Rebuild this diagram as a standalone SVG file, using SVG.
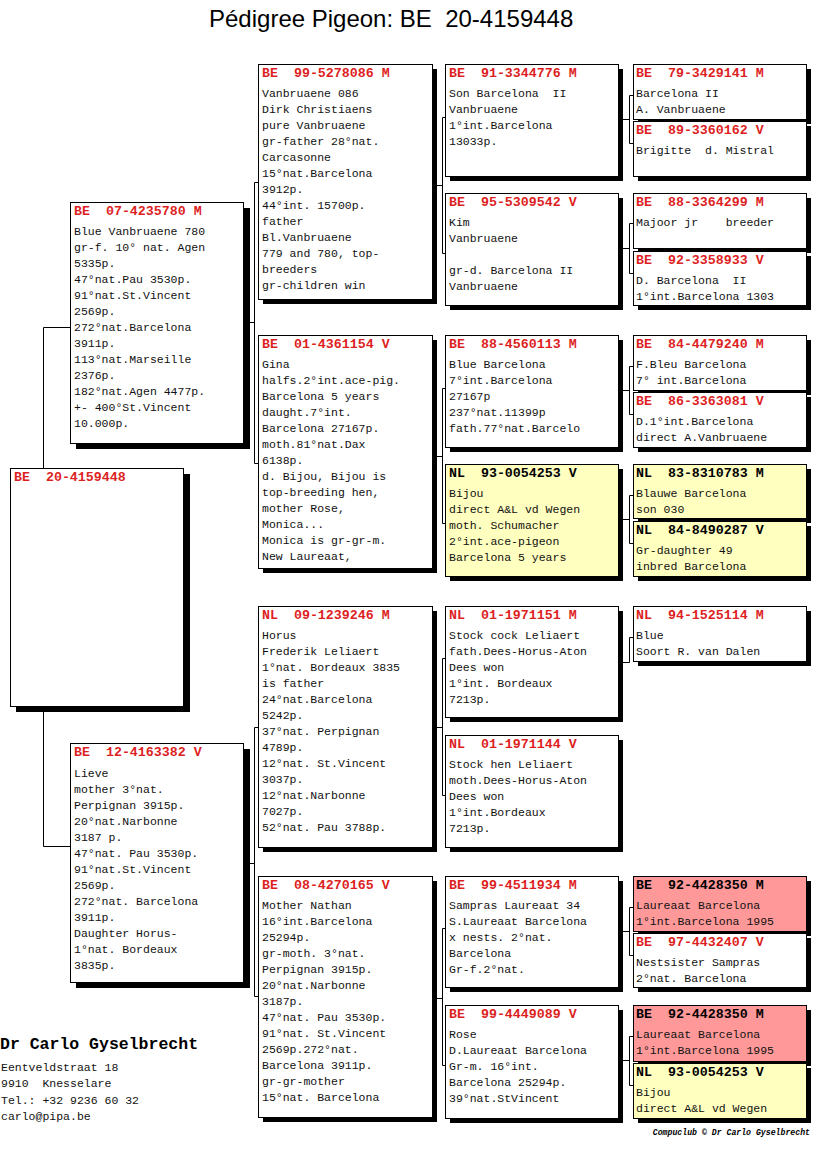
<svg xmlns="http://www.w3.org/2000/svg" width="816" height="1172" viewBox="0 0 816 1172">
<style>
.sh{fill:#000}
.bx{fill:#fff;stroke:#000;stroke-width:1}
.yel{fill:#ffffc0}
.pink{fill:#ff9999}
.hd{font-family:"Liberation Mono",monospace;font-weight:bold;font-size:13.3px;fill:#dd1f1f;white-space:pre}
.hk{fill:#000}
.tx{font-family:"Liberation Mono",monospace;font-size:11.5px;fill:#111;white-space:pre}
.ln{fill:none;stroke:#000;stroke-width:1}
.title{font-family:"Liberation Sans",Arial,sans-serif;font-size:24px;fill:#000;white-space:pre}
.sig{font-family:"Liberation Mono",monospace;font-weight:bold;font-size:16.5px;fill:#000}
.foot{font-family:"Liberation Mono",monospace;font-weight:bold;font-style:italic;font-size:8.2px;fill:#000}
</style>
<rect x="0" y="0" width="816" height="1172" fill="#fff"/>
<text class="title" x="209" y="27" xml:space="preserve">Pédigree Pigeon: BE  20-4159448</text>

<g id="connectors" class="ln">
<path d="M43.5 468V327.5H70"/>
<path d="M43.5 712V846.5H70"/>
<path d="M243 322.5H254.5M254.5 182.5V463.5M254.5 182.5H258M254.5 463.5H258"/>
<path d="M243 863.5H254.5M254.5 727.5V996.5M254.5 727.5H258M254.5 996.5H258"/>
<path d="M432 185.5H442.5M442.5 117.5V253.5M442.5 117.5H445M442.5 253.5H445"/>
<path d="M432 456.5H442.5M442.5 388.5V523.5M442.5 388.5H445M442.5 523.5H445"/>
<path d="M432 727.5H442.5M442.5 658.5V795.5M442.5 658.5H445M442.5 795.5H445"/>
<path d="M432 998.5H442.5M442.5 928.5V1065.5M442.5 928.5H445M442.5 1065.5H445"/>
<path d="M618 119.5H629.5M629.5 95.5V143.5M629.5 95.5H633M629.5 143.5H633"/>
<path d="M618 248.5H629.5M629.5 223.5V273.5M629.5 223.5H633M629.5 273.5H633"/>
<path d="M618 390.5H629.5M629.5 366.5V414.5M629.5 366.5H633M629.5 414.5H633"/>
<path d="M618 519.5H629.5M629.5 495.5V543.5M629.5 495.5H633M629.5 543.5H633"/>
<path d="M618 662.5H629.5V637.5H633"/>
<path d="M618 931.5H629.5M629.5 907.5V955.5M629.5 907.5H633M629.5 955.5H633"/>
<path d="M618 1060.5H629.5M629.5 1036.5V1085.5M629.5 1036.5H633M629.5 1085.5H633"/>
</g>

<g id="n-20-4159448">
<rect class="sh" x="16" y="474" width="174" height="238"/>
<rect class="bx" x="10.5" y="468.5" width="173" height="238"/>
<text class="hd" x="14" y="481" xml:space="preserve">BE  20-4159448</text>
</g>

<g id="n-07-4235780">
<rect class="sh" x="76" y="208" width="174" height="241"/>
<rect class="bx" x="70.5" y="202.5" width="173" height="241"/>
<text class="hd" x="74" y="215" xml:space="preserve">BE  07-4235780 M</text>
<text class="tx" x="74" y="235"><tspan x="74" dy="0">Blue Vanbruaene 780</tspan><tspan x="74" dy="16">gr-f. 10° nat. Agen</tspan><tspan x="74" dy="16">5335p.</tspan><tspan x="74" dy="16">47°nat.Pau 3530p.</tspan><tspan x="74" dy="16">91°nat.St.Vincent</tspan><tspan x="74" dy="16">2569p.</tspan><tspan x="74" dy="16">272°nat.Barcelona</tspan><tspan x="74" dy="16">3911p.</tspan><tspan x="74" dy="16">113°nat.Marseille</tspan><tspan x="74" dy="16">2376p.</tspan><tspan x="74" dy="16">182°nat.Agen 4477p.</tspan><tspan x="74" dy="16">+- 400°St.Vincent</tspan><tspan x="74" dy="16">10.000p.</tspan></text>
</g>

<g id="n-12-4163382">
<rect class="sh" x="76" y="749" width="174" height="239"/>
<rect class="bx" x="70.5" y="743.5" width="173" height="239"/>
<text class="hd" x="74" y="756" xml:space="preserve">BE  12-4163382 V</text>
<text class="tx" x="74" y="777"><tspan x="74" dy="0">Lieve</tspan><tspan x="74" dy="16">mother 3°nat.</tspan><tspan x="74" dy="16">Perpignan 3915p.</tspan><tspan x="74" dy="16">20°nat.Narbonne</tspan><tspan x="74" dy="16">3187 p.</tspan><tspan x="74" dy="16">47°nat. Pau 3530p.</tspan><tspan x="74" dy="16">91°nat.St.Vincent</tspan><tspan x="74" dy="16">2569p.</tspan><tspan x="74" dy="16">272°nat. Barcelona</tspan><tspan x="74" dy="16">3911p.</tspan><tspan x="74" dy="16">Daughter Horus-</tspan><tspan x="74" dy="16">1°nat. Bordeaux</tspan><tspan x="74" dy="16">3835p.</tspan></text>
</g>

<g id="n-99-5278086">
<rect class="sh" x="263" y="69" width="174" height="235"/>
<rect class="bx" x="258.5" y="64.5" width="174" height="235"/>
<text class="hd" x="262" y="77" xml:space="preserve">BE  99-5278086 M</text>
<text class="tx" x="262" y="97"><tspan x="262" dy="0">Vanbruaene 086</tspan><tspan x="262" dy="16">Dirk Christiaens</tspan><tspan x="262" dy="16">pure Vanbruaene</tspan><tspan x="262" dy="16">gr-father 28°nat.</tspan><tspan x="262" dy="16">Carcasonne</tspan><tspan x="262" dy="16">15°nat.Barcelona</tspan><tspan x="262" dy="16">3912p.</tspan><tspan x="262" dy="16">44°int. 15700p.</tspan><tspan x="262" dy="16">father</tspan><tspan x="262" dy="16">Bl.Vanbruaene</tspan><tspan x="262" dy="16">779 and 780, top-</tspan><tspan x="262" dy="16">breeders</tspan><tspan x="262" dy="16">gr-children win</tspan></text>
</g>

<g id="n-01-4361154">
<rect class="sh" x="263" y="340" width="174" height="233"/>
<rect class="bx" x="258.5" y="335.5" width="174" height="233"/>
<text class="hd" x="262" y="348" xml:space="preserve">BE  01-4361154 V</text>
<text class="tx" x="262" y="368"><tspan x="262" dy="0">Gina</tspan><tspan x="262" dy="16">halfs.2°int.ace-pig.</tspan><tspan x="262" dy="16">Barcelona 5 years</tspan><tspan x="262" dy="16">daught.7°int.</tspan><tspan x="262" dy="16">Barcelona 27167p.</tspan><tspan x="262" dy="16">moth.81°nat.Dax</tspan><tspan x="262" dy="16">6138p.</tspan><tspan x="262" dy="16">d. Bijou, Bijou is</tspan><tspan x="262" dy="16">top-breeding hen,</tspan><tspan x="262" dy="16">mother Rose,</tspan><tspan x="262" dy="16">Monica...</tspan><tspan x="262" dy="16">Monica is gr-gr-m.</tspan><tspan x="262" dy="16">New Laureaat,</tspan></text>
</g>

<g id="n-09-1239246">
<rect class="sh" x="263" y="611" width="174" height="241"/>
<rect class="bx" x="258.5" y="606.5" width="174" height="241"/>
<text class="hd" x="262" y="619" xml:space="preserve">NL  09-1239246 M</text>
<text class="tx" x="262" y="639"><tspan x="262" dy="0">Horus</tspan><tspan x="262" dy="16">Frederik Leliaert</tspan><tspan x="262" dy="16">1°nat. Bordeaux 3835</tspan><tspan x="262" dy="16">is father</tspan><tspan x="262" dy="16">24°nat.Barcelona</tspan><tspan x="262" dy="16">5242p.</tspan><tspan x="262" dy="16">37°nat. Perpignan</tspan><tspan x="262" dy="16">4789p.</tspan><tspan x="262" dy="16">12°nat. St.Vincent</tspan><tspan x="262" dy="16">3037p.</tspan><tspan x="262" dy="16">12°nat.Narbonne</tspan><tspan x="262" dy="16">7027p.</tspan><tspan x="262" dy="16">52°nat. Pau 3788p.</tspan></text>
</g>

<g id="n-08-4270165">
<rect class="sh" x="263" y="881" width="174" height="241"/>
<rect class="bx" x="258.5" y="876.5" width="174" height="241"/>
<text class="hd" x="262" y="889" xml:space="preserve">BE  08-4270165 V</text>
<text class="tx" x="262" y="909"><tspan x="262" dy="0">Mother Nathan</tspan><tspan x="262" dy="16">16°int.Barcelona</tspan><tspan x="262" dy="16">25294p.</tspan><tspan x="262" dy="16">gr-moth. 3°nat.</tspan><tspan x="262" dy="16">Perpignan 3915p.</tspan><tspan x="262" dy="16">20°nat.Narbonne</tspan><tspan x="262" dy="16">3187p.</tspan><tspan x="262" dy="16">47°nat. Pau 3530p.</tspan><tspan x="262" dy="16">91°nat. St.Vincent</tspan><tspan x="262" dy="16">2569p.272°nat.</tspan><tspan x="262" dy="16">Barcelona 3911p.</tspan><tspan x="262" dy="16">gr-gr-mother</tspan><tspan x="262" dy="16">15°nat. Barcelona</tspan></text>
</g>

<g id="n-91-3344776">
<rect class="sh" x="450" y="69" width="173" height="112"/>
<rect class="bx" x="445.5" y="64.5" width="173" height="112"/>
<text class="hd" x="449" y="77" xml:space="preserve">BE  91-3344776 M</text>
<text class="tx" x="449" y="97" xml:space="preserve"><tspan x="449" dy="0">Son Barcelona  II</tspan><tspan x="449" dy="16">Vanbruaene</tspan><tspan x="449" dy="16">1°int.Barcelona</tspan><tspan x="449" dy="16">13033p.</tspan></text>
</g>

<g id="n-95-5309542">
<rect class="sh" x="450" y="198" width="173" height="112"/>
<rect class="bx" x="445.5" y="193.5" width="173" height="112"/>
<text class="hd" x="449" y="206" xml:space="preserve">BE  95-5309542 V</text>
<text class="tx" x="449" y="226"><tspan x="449" dy="0">Kim</tspan><tspan x="449" dy="16">Vanbruaene</tspan><tspan x="449" dy="32">gr-d. Barcelona II</tspan><tspan x="449" dy="16">Vanbruaene</tspan></text>
</g>

<g id="n-88-4560113">
<rect class="sh" x="450" y="340" width="173" height="112"/>
<rect class="bx" x="445.5" y="335.5" width="173" height="112"/>
<text class="hd" x="449" y="348" xml:space="preserve">BE  88-4560113 M</text>
<text class="tx" x="449" y="368"><tspan x="449" dy="0">Blue Barcelona</tspan><tspan x="449" dy="16">7°int.Barcelona</tspan><tspan x="449" dy="16">27167p</tspan><tspan x="449" dy="16">237°nat.11399p</tspan><tspan x="449" dy="16">fath.77°nat.Barcelo</tspan></text>
</g>

<g id="n-93-0054253-a">
<rect class="sh" x="450" y="469" width="173" height="112"/>
<rect class="bx yel" x="445.5" y="464.5" width="173" height="112"/>
<text class="hd hk" x="449" y="477" xml:space="preserve">NL  93-0054253 V</text>
<text class="tx" x="449" y="497"><tspan x="449" dy="0">Bijou</tspan><tspan x="449" dy="16">direct A&amp;L vd Wegen</tspan><tspan x="449" dy="16">moth. Schumacher</tspan><tspan x="449" dy="16">2°int.ace-pigeon</tspan><tspan x="449" dy="16">Barcelona 5 years</tspan></text>
</g>

<g id="n-01-1971151">
<rect class="sh" x="450" y="611" width="173" height="111"/>
<rect class="bx" x="445.5" y="606.5" width="173" height="111"/>
<text class="hd" x="449" y="619" xml:space="preserve">NL  01-1971151 M</text>
<text class="tx" x="449" y="639"><tspan x="449" dy="0">Stock cock Leliaert</tspan><tspan x="449" dy="16">fath.Dees-Horus-Aton</tspan><tspan x="449" dy="16">Dees won</tspan><tspan x="449" dy="16">1°int. Bordeaux</tspan><tspan x="449" dy="16">7213p.</tspan></text>
</g>

<g id="n-01-1971144">
<rect class="sh" x="450" y="740" width="173" height="112"/>
<rect class="bx" x="445.5" y="735.5" width="173" height="112"/>
<text class="hd" x="449" y="748" xml:space="preserve">NL  01-1971144 V</text>
<text class="tx" x="449" y="768"><tspan x="449" dy="0">Stock hen Leliaert</tspan><tspan x="449" dy="16">moth.Dees-Horus-Aton</tspan><tspan x="449" dy="16">Dees won</tspan><tspan x="449" dy="16">1°int.Bordeaux</tspan><tspan x="449" dy="16">7213p.</tspan></text>
</g>

<g id="n-99-4511934">
<rect class="sh" x="450" y="881" width="173" height="111"/>
<rect class="bx" x="445.5" y="876.5" width="173" height="111"/>
<text class="hd" x="449" y="889" xml:space="preserve">BE  99-4511934 M</text>
<text class="tx" x="449" y="909"><tspan x="449" dy="0">Sampras Laureaat 34</tspan><tspan x="449" dy="16">S.Laureaat Barcelona</tspan><tspan x="449" dy="16">x nests. 2°nat.</tspan><tspan x="449" dy="16">Barcelona</tspan><tspan x="449" dy="16">Gr-f.2°nat.</tspan></text>
</g>

<g id="n-99-4449089">
<rect class="sh" x="450" y="1010" width="173" height="113"/>
<rect class="bx" x="445.5" y="1005.5" width="173" height="113"/>
<text class="hd" x="449" y="1018" xml:space="preserve">BE  99-4449089 V</text>
<text class="tx" x="449" y="1038"><tspan x="449" dy="0">Rose</tspan><tspan x="449" dy="16">D.Laureaat Barcelona</tspan><tspan x="449" dy="16">Gr-m. 16°int.</tspan><tspan x="449" dy="16">Barcelona 25294p.</tspan><tspan x="449" dy="16">39°nat.StVincent</tspan></text>
</g>

<g id="n-79-3429141">
<rect class="sh" x="638" y="69" width="173" height="55"/>
<rect class="bx" x="633.5" y="64.5" width="173" height="55"/>
<text class="hd" x="636" y="77" xml:space="preserve">BE  79-3429141 M</text>
<text class="tx" x="636" y="97"><tspan x="636" dy="0">Barcelona II</tspan><tspan x="636" dy="15.5">A. Vanbruaene</tspan></text>
</g>
<g id="n-89-3360162">
<rect class="sh" x="638" y="126" width="173" height="55"/>
<rect class="bx" x="633.5" y="121.5" width="173" height="55"/>
<text class="hd" x="636" y="134" xml:space="preserve">BE  89-3360162 V</text>
<text class="tx" x="636" y="154" xml:space="preserve">Brigitte  d. Mistral</text>
</g>
<g id="n-88-3364299">
<rect class="sh" x="638" y="198" width="173" height="55"/>
<rect class="bx" x="633.5" y="193.5" width="173" height="55"/>
<text class="hd" x="636" y="206" xml:space="preserve">BE  88-3364299 M</text>
<text class="tx" x="636" y="226" xml:space="preserve">Majoor jr    breeder</text>
</g>
<g id="n-92-3358933">
<rect class="sh" x="638" y="256" width="173" height="54"/>
<rect class="bx" x="633.5" y="251.5" width="173" height="54"/>
<text class="hd" x="636" y="264" xml:space="preserve">BE  92-3358933 V</text>
<text class="tx" x="636" y="284" xml:space="preserve"><tspan x="636" dy="0">D. Barcelona  II</tspan><tspan x="636" dy="15.5">1°int.Barcelona 1303</tspan></text>
</g>

<g id="n-84-4479240">
<rect class="sh" x="638" y="340" width="173" height="55"/>
<rect class="bx" x="633.5" y="335.5" width="173" height="55"/>
<text class="hd" x="636" y="348" xml:space="preserve">BE  84-4479240 M</text>
<text class="tx" x="636" y="368"><tspan x="636" dy="0">F.Bleu Barcelona</tspan><tspan x="636" dy="15.5">7° int.Barcelona</tspan></text>
</g>
<g id="n-86-3363081">
<rect class="sh" x="638" y="397" width="173" height="55"/>
<rect class="bx" x="633.5" y="392.5" width="173" height="55"/>
<text class="hd" x="636" y="405" xml:space="preserve">BE  86-3363081 V</text>
<text class="tx" x="636" y="425"><tspan x="636" dy="0">D.1°int.Barcelona</tspan><tspan x="636" dy="15.5">direct A.Vanbruaene</tspan></text>
</g>
<g id="n-83-8310783">
<rect class="sh" x="638" y="469" width="173" height="54"/>
<rect class="bx yel" x="633.5" y="464.5" width="173" height="54"/>
<text class="hd hk" x="636" y="477" xml:space="preserve">NL  83-8310783 M</text>
<text class="tx" x="636" y="497"><tspan x="636" dy="0">Blauwe Barcelona</tspan><tspan x="636" dy="15.5">son 030</tspan></text>
</g>
<g id="n-84-8490287">
<rect class="sh" x="638" y="526" width="173" height="55"/>
<rect class="bx yel" x="633.5" y="521.5" width="173" height="55"/>
<text class="hd hk" x="636" y="534" xml:space="preserve">NL  84-8490287 V</text>
<text class="tx" x="636" y="554"><tspan x="636" dy="0">Gr-daughter 49</tspan><tspan x="636" dy="15.5">inbred Barcelona</tspan></text>
</g>

<g id="n-94-1525114">
<rect class="sh" x="638" y="611" width="173" height="55"/>
<rect class="bx" x="633.5" y="606.5" width="173" height="55"/>
<text class="hd" x="636" y="619" xml:space="preserve">NL  94-1525114 M</text>
<text class="tx" x="636" y="639"><tspan x="636" dy="0">Blue</tspan><tspan x="636" dy="15.5">Soort R. van Dalen</tspan></text>
</g>

<g id="n-92-4428350-a">
<rect class="sh" x="638" y="881" width="173" height="55"/>
<rect class="bx pink" x="633.5" y="876.5" width="173" height="55"/>
<text class="hd hk" x="636" y="889" xml:space="preserve">BE  92-4428350 M</text>
<text class="tx" x="636" y="909"><tspan x="636" dy="0">Laureaat Barcelona</tspan><tspan x="636" dy="15.5">1°int.Barcelona 1995</tspan></text>
</g>
<g id="n-97-4432407">
<rect class="sh" x="638" y="938" width="173" height="54"/>
<rect class="bx" x="633.5" y="933.5" width="173" height="54"/>
<text class="hd" x="636" y="946" xml:space="preserve">BE  97-4432407 V</text>
<text class="tx" x="636" y="966"><tspan x="636" dy="0">Nestsister Sampras</tspan><tspan x="636" dy="15.5">2°nat. Barcelona</tspan></text>
</g>
<g id="n-92-4428350-b">
<rect class="sh" x="638" y="1010" width="173" height="56"/>
<rect class="bx pink" x="633.5" y="1005.5" width="173" height="56"/>
<text class="hd hk" x="636" y="1018" xml:space="preserve">BE  92-4428350 M</text>
<text class="tx" x="636" y="1038"><tspan x="636" dy="0">Laureaat Barcelona</tspan><tspan x="636" dy="15.5">1°int.Barcelona 1995</tspan></text>
</g>
<g id="n-93-0054253-b">
<rect class="sh" x="638" y="1068" width="173" height="55"/>
<rect class="bx yel" x="633.5" y="1063.5" width="173" height="55"/>
<text class="hd hk" x="636" y="1076" xml:space="preserve">NL  93-0054253 V</text>
<text class="tx" x="636" y="1096"><tspan x="636" dy="0">Bijou</tspan><tspan x="636" dy="15.5">direct A&amp;L vd Wegen</tspan></text>
</g>

<g id="signature">
<text class="sig" x="0" y="1049">Dr Carlo Gyselbrecht</text>
<text class="tx" x="1" y="1071" xml:space="preserve"><tspan x="1" dy="0">Eentveldstraat 18</tspan><tspan x="1" dy="16.3">9910  Knesselare</tspan><tspan x="1" dy="16.3">Tel.: +32 9236 60 32</tspan><tspan x="1" dy="16.3">carlo@pipa.be</tspan></text>
</g>
<text class="foot" x="810" y="1135" text-anchor="end">Compuclub © Dr Carlo Gyselbrecht</text>
</svg>
